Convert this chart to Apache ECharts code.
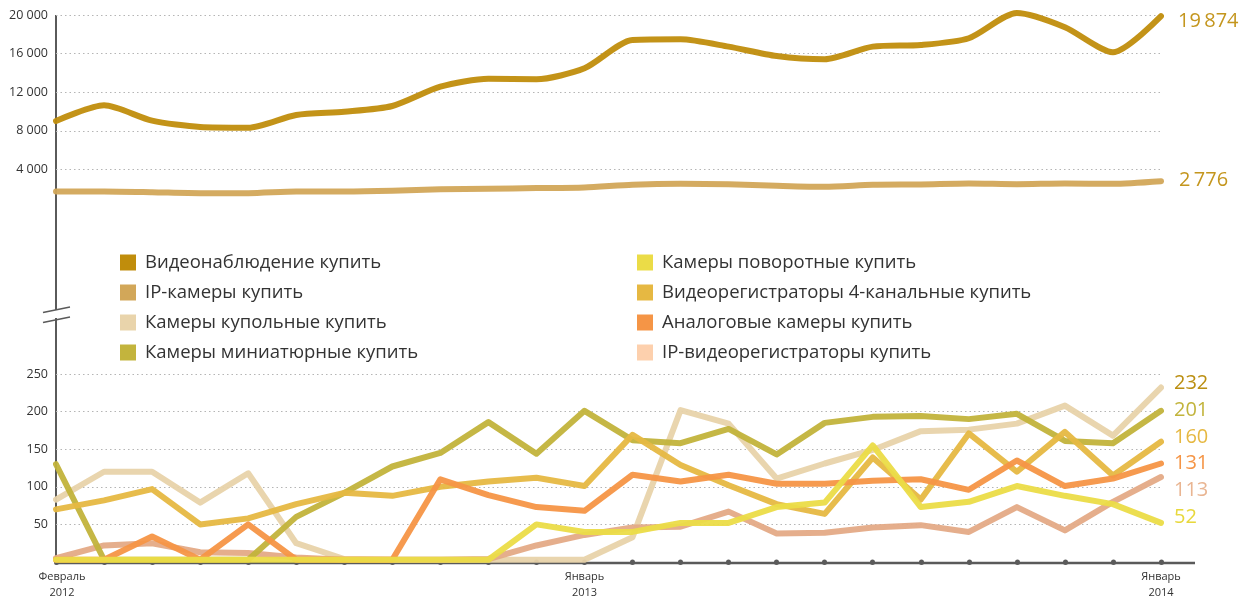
<!DOCTYPE html>
<html>
<head>
<meta charset="utf-8">
<script src="https://cdn.jsdelivr.net/npm/echarts@6/dist/echarts.min.js"></script>
<style>
html,body{margin:0;padding:0;background:#fff;}
#chart{width:1245px;height:597px;}
</style>
</head>
<body>
<div id="chart"></div>
<script>
const months = ['Февраль 2012','Март 2012','Апрель 2012','Май 2012','Июнь 2012','Июль 2012','Август 2012','Сентябрь 2012','Октябрь 2012','Ноябрь 2012','Декабрь 2012','Январь 2013','Февраль 2013','Март 2013','Апрель 2013','Май 2013','Июнь 2013','Июль 2013','Август 2013','Сентябрь 2013','Октябрь 2013','Ноябрь 2013','Декабрь 2013','Январь 2014'];
const shownMonthLabels = {0: ['Февраль','2012'], 11: ['Январь','2013'], 23: ['Январь','2014']};

const videonablyudenie = [9020,10640,9050,8390,8320,9640,9980,10570,12570,13400,13340,14480,17410,17480,16720,15750,15410,16720,16890,17590,20200,18730,16140,19874];
const ipKamery = [1715,1715,1640,1540,1540,1715,1715,1790,1950,2000,2060,2130,2410,2510,2470,2310,2200,2410,2440,2540,2470,2540,2510,2776];

const kupolnye = [83,120,120,79,118,25,4,3,3,3,3,3,33,202,184,111,131,149,174,176,184,208,168,232];
const miniatyurnye = [130,3,3,3,3,60,92,127,145,186,144,201,162,158,177,143,185,193,194,190,197,161,158,201];
const povorotnye = [3,3,3,3,3,3,3,3,3,3,50,40,40,52,52,73,79,155,73,80,101,88,77,52];
const registratory4 = [70,82,97,50,58,77,92,88,100,107,112,101,169,129,102,77,64,139,83,171,120,173,115,160];
const analogovye = [3,3,34,3,50,3,3,3,110,89,73,68,116,107,116,104,104,108,110,96,135,101,111,131];
const ipRegistratory = [5,22,25,13,12,6,3,3,3,4,22,36,46,47,67,38,39,46,49,40,73,42,80,113];

const topTicks = {min: 0, max: 20000, interval: 4000};
const bottomTicks = {min: 0, max: 250, interval: 50};

const FONT = 'Open Sans';
const fmt = v => String(v).replace(/\B(?=(\d{3})+(?!\d))/g, '\u2009');

function lineSeries(name, data, xi, color, lineColor, labelColor, dist, dy, smooth, z) {
  return {
    name: name, type: 'line', data: data,
    xAxisIndex: xi, yAxisIndex: xi,
    smooth: smooth, symbol: 'none', clip: false, z: z,
    itemStyle: {color: color},
    lineStyle: {color: lineColor, width: 6, cap: 'round', join: 'round', opacity: 0.95},
    endLabel: {
      show: true, distance: dist, offset: [0, dy],
      formatter: p => fmt(p.value),
      color: labelColor, fontFamily: FONT, fontSize: 20
    },
    emphasis: {disabled: true}
  };
}

const chart = echarts.init(document.getElementById('chart'), null, {renderer: 'canvas'});
const axisColor = '#5a5a5a';
const legendText = {fontSize: 18.5, color: '#333', padding: [0, 0, 0, 4], fontFamily: FONT};
chart.setOption({
  animation: false,
  backgroundColor: '#fff',
  textStyle: {fontFamily: FONT},
  grid: [
    {left: 56, right: 84, top: 15, height: 193, outerBoundsMode: 'none', containLabel: false},
    {left: 56, right: 84, top: 374, height: 188, outerBoundsMode: 'none', containLabel: false}
  ],
  xAxis: [
    {type: 'category', gridIndex: 0, data: months, boundaryGap: false, show: false},
    {type: 'category', gridIndex: 1, data: months, boundaryGap: false,
      axisLine: {show: false},
      axisTick: {show: true, interval: 0, length: 0.5, alignWithLabel: true,
        lineStyle: {color: axisColor, width: 5, cap: 'round'}},
      axisLabel: {
        interval: 0, margin: 7, color: '#333', fontSize: 11, lineHeight: 16,
        fontFamily: FONT,
        formatter: (v, i) => {
          const l = shownMonthLabels[i];
          if (!l) return '';
          return i === 0 ? '{f|' + l[0] + '}\n{f|' + l[1] + '}' : l[0] + '\n' + l[1];
        },
        rich: {f: {padding: [0, 0, 0, 12], fontSize: 11, lineHeight: 16, color: '#333', fontFamily: FONT}}
      }
    }
  ],
  yAxis: [
    {type: 'value', gridIndex: 0, min: topTicks.min, max: topTicks.max, interval: topTicks.interval,
      axisLine: {show: false}, axisTick: {show: false},
      axisLabel: {margin: 8, color: '#333', fontSize: 12.5, fontFamily: FONT,
        formatter: v => v === 0 ? '' : fmt(v).replace('\u2009', ' ')},
      splitLine: {show: true, lineStyle: {type: [1.5, 3], width: 1,
        color: ['rgba(0,0,0,0)', '#b5b5b5', '#b5b5b5', '#b5b5b5', '#b5b5b5', '#b5b5b5']}}
    },
    {type: 'value', gridIndex: 1, min: bottomTicks.min, max: bottomTicks.max, interval: bottomTicks.interval,
      axisLine: {show: false}, axisTick: {show: false},
      axisLabel: {margin: 8, color: '#333', fontSize: 12.5, fontFamily: FONT,
        formatter: v => v === 0 ? '' : String(v)},
      splitLine: {show: true, lineStyle: {type: [1.5, 3], width: 1,
        color: ['rgba(0,0,0,0)', '#b5b5b5', '#b5b5b5', '#b5b5b5', '#b5b5b5', '#b5b5b5']}}
    }
  ],
  legend: [
    {orient: 'vertical', left: 120, top: 253, padding: 0, itemWidth: 16, itemHeight: 16, itemGap: 11, icon: 'rect',
      selectedMode: false, textStyle: legendText,
      data: ['Видеонаблюдение купить', 'IP-камеры купить', 'Камеры купольные купить', 'Камеры миниатюрные купить']},
    {orient: 'vertical', left: 637, top: 253, padding: 0, itemWidth: 16, itemHeight: 16, itemGap: 11, icon: 'rect',
      selectedMode: false, textStyle: legendText,
      data: ['Камеры поворотные купить', 'Видеорегистраторы 4-канальные купить', 'Аналоговые камеры купить', 'IP-видеорегистраторы купить']}
  ],
  graphic: [
    {type: 'line', shape: {x1: 56, y1: 15, x2: 56, y2: 310}, style: {stroke: axisColor, lineWidth: 2}},
    {type: 'line', shape: {x1: 56, y1: 318, x2: 56, y2: 563}, style: {stroke: axisColor, lineWidth: 2}},
    {type: 'line', shape: {x1: 43, y1: 312.5, x2: 70, y2: 307}, style: {stroke: axisColor, lineWidth: 1.5}},
    {type: 'line', shape: {x1: 43, y1: 322.5, x2: 70, y2: 317}, style: {stroke: axisColor, lineWidth: 1.5}},
    {type: 'line', shape: {x1: 55, y1: 563, x2: 1195, y2: 563}, style: {stroke: axisColor, lineWidth: 2.5}}
  ],
  series: [
    lineSeries('Видеонаблюдение купить', videonablyudenie, 0, '#c08d0c', '#c08d0c', '#c4961e', 17, 5, 0.25, 3),
    lineSeries('IP-камеры купить', ipKamery, 0, '#d2a759', '#d2a759', '#c4961e', 18, -1, 0.25, 2),
    lineSeries('Камеры купольные купить', kupolnye, 1, '#e9d4ab', '#e8d3aa', '#bb8f12', 13, -4.6, false, 2),
    lineSeries('IP-видеорегистраторы купить', ipRegistratory, 1, '#fdd0ad', '#e4aa86', '#e9b592', 13, 13.2, false, 2),
    lineSeries('Камеры миниатюрные купить', miniatyurnye, 1, '#c3b43d', '#c2b33b', '#c2b43c', 13, -0.6, false, 3),
    lineSeries('Видеорегистраторы 4-канальные купить', registratory4, 1, '#e6b842', '#e6b842', '#e6b842', 13, -4.8, false, 3),
    lineSeries('Аналоговые камеры купить', analogovye, 1, '#f59546', '#f59546', '#f59546', 13, 0, false, 3),
    lineSeries('Камеры поворотные купить', povorotnye, 1, '#ebdc47', '#ebdc47', '#e8d83c', 13, -6, false, 4)
  ]
});
</script>
</body>
</html>
